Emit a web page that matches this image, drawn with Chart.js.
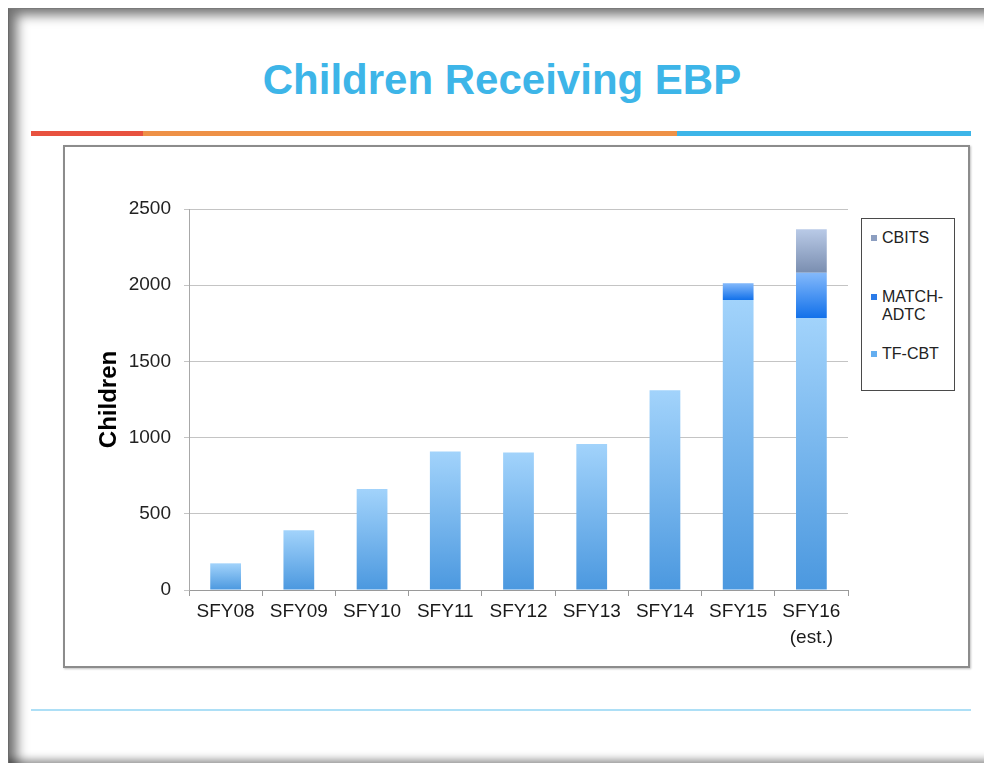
<!DOCTYPE html>
<html>
<head>
<meta charset="utf-8">
<script src="https://cdn.jsdelivr.net/npm/chart.js@4/dist/chart.umd.min.js"></script>
<style>
  html, body { margin:0; padding:0; background:#fff; width:984px; height:763px; overflow:hidden; font-family:"Liberation Sans", Arial, sans-serif; }
  .slide { position:absolute; left:8px; top:8px; width:990px; height:755px; box-sizing:border-box;
           border-left:1px solid #6a6a6a; border-top:1px solid #7a7a7a;
           box-shadow: inset 14px 12px 12px -6px rgba(0,0,0,0.55), inset 0 -9px 8px -6px rgba(0,0,0,0.45); }
  .title { position:absolute; left:0; width:1004px; top:55px; text-align:center; font-weight:bold; font-size:42px; color:#3db5e8; line-height:50px; }
  .bar { position:absolute; top:131px; height:5px; }
  .box { position:absolute; left:63px; top:145px; width:907px; height:523px; box-sizing:border-box; border:2px solid #8c8c8c; background:#fff; box-shadow:1px 1px 2px rgba(0,0,0,0.25); }
  .bottomline { position:absolute; left:31px; top:709px; width:940px; height:2px; background:#addff6; }
  canvas#c { position:absolute; left:65px; top:147px; }
  .legend { position:absolute; left:861px; top:218px; width:94px; height:173px; box-sizing:border-box; border:1px solid #4a4a4a; background:#fff; font-size:16px; color:#222; }
  .li { position:absolute; left:20px; line-height:18px; }
  .sw { position:absolute; left:-11px; top:6px; width:6px; height:6px; }
</style>
</head>
<body>
<div class="slide"></div>
<div class="title">Children Receiving EBP</div>
<div class="bar" style="left:31px;width:112px;background:#e8523f"></div>
<div class="bar" style="left:143px;width:534px;background:#ee9147"></div>
<div class="bar" style="left:677px;width:294px;background:#3db5e8"></div>
<div class="box"></div>
<canvas id="c" width="903" height="519"></canvas>
<div class="legend" id="legend"></div>
<div class="bottomline"></div>
<script>
// ---- data ----
const categories = ['SFY08','SFY09','SFY10','SFY11','SFY12','SFY13','SFY14','SFY15',['SFY16','(est.)']];
const tfCbt     = [175, 392, 662, 908, 903, 958, 1310, 1903, 1785];
const matchAdtc = [null, null, null, null, null, null, null, 110, 297];
const cbits     = [null, null, null, null, null, null, null, null, 285];
const seriesNames = ['TF-CBT', 'MATCH-ADTC', 'CBITS'];
const yTicks = [0, 500, 1000, 1500, 2000, 2500];

const seriesData = [tfCbt, matchAdtc, cbits];
const gradStops = [
  ['#a2d3fb', '#4b98df'],
  ['#84b9fb', '#1271ea'],
  ['#b9cae7', '#7a8eb0']
];
const swatch = ['#64aef0', '#2a7be9', '#8c9ec0'];

function gradFor(di) {
  return (c) => {
    const [top, bot] = gradStops[di];
    const ch = c.chart, y = ch.scales && ch.scales.y;
    if (!y || c.type !== 'data') return bot;
    let start = 0;
    for (let k = 0; k < di; k++) start += seriesData[k][c.dataIndex] || 0;
    const end = start + (seriesData[di][c.dataIndex] || 0);
    const y0 = y.getPixelForValue(start), y1 = y.getPixelForValue(end);
    if (!isFinite(y0) || !isFinite(y1) || y0 === y1) return bot;
    const g = ch.ctx.createLinearGradient(0, y1, 0, y0);
    g.addColorStop(0, top);
    g.addColorStop(1, bot);
    return g;
  };
}

const datasets = seriesData.map((d, i) => ({
  label: seriesNames[i],
  data: d,
  backgroundColor: gradFor(i),
  borderWidth: 0,
  barPercentage: 0.42,
  categoryPercentage: 1.0
}));

new Chart(document.getElementById('c'), {
  type: 'bar',
  data: { labels: categories, datasets },
  options: {
    responsive: false,
    animation: false,
    layout: { padding: { top: 62, right: 120, left: 0, bottom: 0 } },
    plugins: { legend: { display: false }, tooltip: { enabled: false } },
    scales: {
      x: {
        stacked: true,
        grid: { display: true, drawOnChartArea: false, drawTicks: true, tickLength: 6, color: '#9a9a9a', offset: true },
        border: { display: true, color: '#9a9a9a', width: 1 },
        ticks: { color: '#1a1a1a', font: { family: 'Liberation Sans', size: 19, lineHeight: 1.35 }, padding: 3, maxRotation: 0, autoSkip: false },
        afterFit: (s) => { s.height = 76; }
      },
      y: {
        stacked: true,
        min: 0, max: 2500,
        afterBuildTicks: (s) => { s.ticks = yTicks.map(v => ({ value: v })); },
        grid: { color: '#c4c4c4', tickLength: 5, lineWidth: 1 },
        border: { display: true, color: '#a8a8a8', width: 1 },
        ticks: { color: '#222', font: { family: 'Liberation Sans', size: 19 }, padding: 13, callback: (v) => String(v) },
        title: { display: true, text: 'Children', color: '#000', font: { family: 'Liberation Sans', size: 24, weight: 'bold' }, padding: { top: 30, bottom: 0 } },
        afterFit: (s) => { s.width = 124; }
      }
    }
  }
});

// HTML legend (reverse order as in the reference)
const legendPos = [ [10, 'CBITS'], [69, 'MATCH-<br>ADTC'], [126, 'TF-CBT'] ];
const lg = document.getElementById('legend');
[2, 1, 0].forEach((di, k) => {
  const el = document.createElement('div');
  el.className = 'li';
  el.style.top = legendPos[k][0] + 'px';
  el.innerHTML = '<span class="sw" style="background:' + swatch[di] + '"></span>' + legendPos[k][1];
  lg.appendChild(el);
});
</script>
</body>
</html>
